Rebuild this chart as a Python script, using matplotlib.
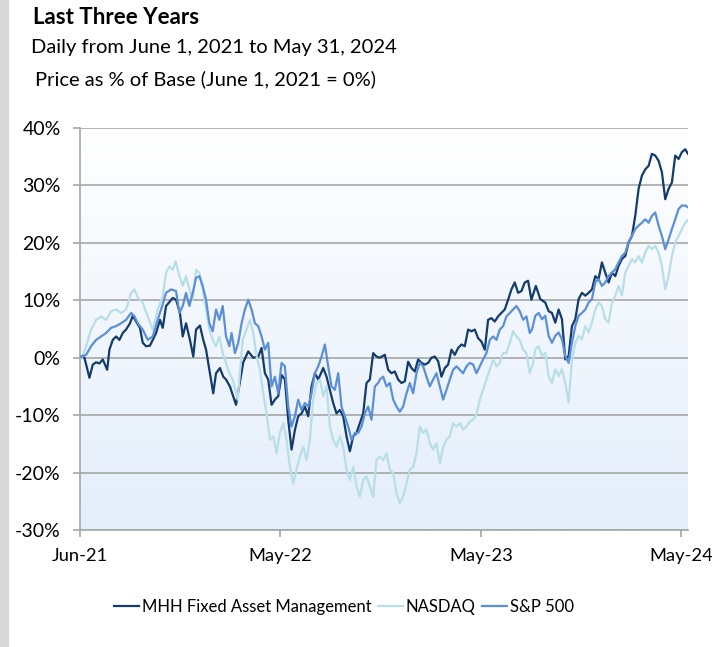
import numpy as np
import pandas as pd
import matplotlib
matplotlib.use("Agg")
import matplotlib.pyplot as plt
from matplotlib.colors import LinearSegmentedColormap
from matplotlib.patches import Rectangle

plt.rcParams['font.family'] = ['Lato', 'DejaVu Sans']

# days since June 1, 2021 and % change
mhh_days = [0, 2, 8, 17, 23, 29, 35, 41, 49, 53, 59, 65, 71, 77, 83, 90, 95, 101, 108, 113,
            119, 126, 131, 137, 144, 149, 155, 162, 167, 173, 180, 185, 191, 198, 204, 209,
            216, 222, 227, 234, 240, 245, 252, 258, 263, 270, 281, 294, 303, 312, 321, 327,
            333, 339, 345, 351, 357, 363, 369, 375, 381, 387, 393, 399, 405, 411, 417, 423,
            429, 438, 444, 450, 456, 462, 468, 474, 480, 486, 492, 498, 504, 510, 516, 522,
            528, 534, 540, 549, 555, 561, 567, 573, 579, 585, 591, 597, 603, 609, 615, 621,
            627, 633, 639, 645, 651, 657, 663, 669, 675, 681, 687, 693, 699, 705, 711, 717,
            723, 729, 735, 741, 747, 753, 759, 765, 771, 777, 783, 789, 795, 801, 807, 813,
            821, 829, 838, 844, 850, 856, 862, 868, 874, 880, 886, 892, 898, 904, 910, 916,
            922, 928, 934, 940, 946, 952, 958, 964, 970, 976, 982, 988, 994, 1000, 1006, 1012,
            1018, 1024, 1030, 1036, 1042, 1048, 1054, 1060, 1066, 1072, 1078, 1084, 1090, 1095]
mhh_vals = [0, 0.2, 0, -3.5, -1.2, -0.8, -1, -0.3, -2.1, 1.4, 3.1, 3.7, 3.1, 4.3, 4.9, 6, 7.3,
            6.3, 5.2, 2.6, 2, 2.1, 3.1, 4.3, 6.6, 5.2, 9, 9.8, 10.4, 10.1, 7.8, 3.7, 6, 3.1, 0.2,
            4.9, 5.6, 3.1, 1.4, -2.7, -6.2, -2.7, -1.8, -3.3, -3.8, -5, -8.2, -0.8, 1.1, 0, 0.2,
            1.7, -2.7, -3.8, -8.2, -7.3, -6.7, -3, -3.8, -10.8, -16, -12.6, -10.2, -9.7, -8.5,
            -10.2, -5, -2.7, -3.8, -1.8, -3.3, -5.6, -7.9, -9.7, -9.1, -10.2, -13.7, -16.3,
            -13.7, -13.1, -11.4, -9.7, -4.4, -3.8, 0.8, 0.2, 0, 0.5, -2.1, -2.7, -2.4, -3.8,
            -4.4, -4.1, -0.7, -1.8, -2.4, -0.3, -0.9, -1.2, -0.9, 0, 0.2, -0.6, -3.3, -1.8,
            -1.2, 1.4, 0.5, 1.7, 2.3, 2, 4.9, 4.6, 4.9, 3.4, 2.8, 1.4, 6.6, 6.9, 6.3, 7.2, 7.8,
            8.4, 10.1, 11.9, 13.1, 11.3, 11.6, 13.1, 13.4, 10.1, 12.5, 10.2, 9.6, 8.1, 7.8, 6.1,
            8.4, 6.7, -0.3, 0.3, 5.5, 6.7, 10.2, 11.3, 10.8, 11.3, 11.9, 14.2, 13.7, 16.6, 14.8,
            13.1, 14.8, 14.2, 16, 17.2, 17.7, 20.1, 21.2, 24.7, 29.4, 31.7, 32.8, 33.4, 35.5,
            35.2, 34.3, 32.3, 27.6, 29.4, 30.5, 35.2, 34.6, 35.8, 36.3, 35.5]

nasdaq_days = [0, 2, 11, 20, 29, 38, 47, 56, 65, 74, 83, 92, 98, 104, 113, 122, 131, 140, 149,
               155, 161, 167, 172, 179, 185, 191, 197, 203, 209, 215, 221, 227, 233, 239, 245,
               251, 257, 263, 269, 275, 284, 293, 300, 306, 312, 318, 324, 330, 336, 342, 348,
               354, 360, 366, 372, 378, 384, 390, 396, 402, 408, 414, 420, 426, 432, 438, 444,
               450, 456, 462, 468, 474, 480, 486, 492, 498, 504, 510, 516, 522, 528, 534, 540,
               546, 552, 558, 564, 570, 576, 582, 588, 594, 600, 606, 612, 618, 624, 630, 636,
               642, 648, 654, 660, 666, 672, 678, 684, 690, 696, 702, 708, 714, 720, 726, 732,
               738, 744, 750, 756, 762, 768, 774, 780, 786, 792, 798, 804, 810, 816, 820, 826,
               832, 838, 844, 850, 856, 862, 868, 874, 880, 886, 892, 898, 904, 910, 916, 922,
               928, 934, 940, 946, 952, 958, 964, 970, 976, 982, 988, 994, 1000, 1006, 1012,
               1018, 1024, 1030, 1036, 1042, 1048, 1054, 1060, 1066, 1072, 1078, 1084, 1090, 1095]
nasdaq_vals = [0, -0.3, 2, 4.9, 6.6, 7.2, 6.6, 8.1, 8.4, 7.8, 8.4, 11.3, 11.9, 10.5, 9.6, 7.2,
               4.9, 8.4, 10.7, 14.8, 15.9, 15.3, 16.8, 14.2, 12.5, 14.2, 11.9, 10.1, 15.3, 14.8,
               11.9, 8.4, 4.9, 3.1, 2, 3.7, 0.8, -0.9, -2.7, -3.8, -7.3, 3.1, 4.9, 6.6, 4.3, 0.2,
               -2.1, -6.2, -9.7, -14.3, -13.7, -16.6, -13.1, -11.4, -14.3, -19, -21.9, -19.5,
               -17.2, -15.5, -17.8, -14.3, -7.3, -4.4, -3.8, -6.7, -5, -12, -14.3, -15.5, -13.7,
               -15.5, -19.5, -21.3, -19, -22.4, -24.2, -21.3, -20.7, -22.4, -24.2, -17.8, -17.2,
               -17.8, -16.6, -19.5, -20.1, -23.6, -25.3, -24.2, -21.9, -19.5, -19, -16.6, -12,
               -13.1, -12.5, -14.9, -16, -14.9, -18.4, -15.5, -14.3, -13.7, -11.4, -12, -11.4,
               -12.5, -12, -11.1, -10.8, -9.9, -7.3, -5.6, -3.8, -2.1, -0.3, -1.5, -0.9, 0.8, 0.8,
               2.6, 4.6, 3.7, 3.1, 1.4, 0.8, -2.7, -0.9, 1.5, 2, 0.3, 0.9, -3.2, -4.4, -2, -3.2, -2,
               -4.4, -7.8, -0.3, 2.6, 3.8, 3.2, 5.5, 4.4, 6.1, 8.4, 9.6, 9, 6.7, 6.1, 9.6, 10.8,
               12.5, 10.8, 14.8, 16, 17.2, 16.6, 17.7, 16.6, 18.3, 19.5, 18.9, 19.5, 18.3, 16,
               11.9, 14.2, 17.7, 20.1, 21.2, 22.4, 23.5, 24]

sp_days = [0, 2, 11, 20, 29, 38, 47, 56, 65, 74, 83, 92, 98, 104, 113, 122, 131, 140, 149, 155,
           164, 173, 179, 185, 191, 197, 203, 209, 215, 221, 227, 233, 239, 245, 251, 257, 263,
           269, 273, 279, 285, 291, 297, 303, 309, 315, 321, 327, 333, 339, 345, 351, 357, 363,
           369, 375, 381, 387, 393, 399, 405, 411, 417, 423, 429, 435, 441, 447, 453, 459, 465,
           471, 477, 483, 489, 495, 501, 507, 513, 519, 525, 531, 537, 540, 546, 552, 558, 564,
           570, 576, 582, 588, 594, 600, 606, 612, 618, 624, 630, 636, 642, 648, 654, 660, 666,
           672, 678, 684, 690, 696, 702, 708, 714, 720, 726, 732, 738, 744, 750, 756, 762, 768,
           774, 780, 786, 792, 798, 804, 810, 814, 820, 826, 832, 838, 844, 850, 856, 862, 868,
           874, 880, 886, 892, 898, 904, 910, 916, 922, 928, 934, 940, 946, 952, 958, 964, 970,
           976, 982, 988, 994, 1000, 1006, 1012, 1018, 1024, 1030, 1036, 1042, 1048, 1054, 1060,
           1066, 1072, 1078, 1084, 1090, 1095]
sp_vals = [0, 0.2, 0.5, 2, 3.1, 3.7, 4.3, 5.2, 5.5, 6, 6.6, 7.8, 7.2, 6, 4.9, 3.1, 3.7, 6.6,
           9.3, 11.3, 11.9, 11.6, 7.8, 9, 11.3, 9, 11.3, 13.9, 14.2, 12.5, 10.1, 6, 4.6, 8.4, 6.6,
           9, 3.7, 2, 4.3, 0.8, 2.6, 6, 8.4, 10.1, 8.4, 6, 5.5, 3.7, 1.4, 2.6, -5, -3.3, -6.2,
           -0.9, -1.5, -8.5, -12, -10.2, -7.3, -9.1, -7.9, -8.5, -6.2, -2.7, -1.5, 0.2, 2.3, -1.5,
           -5, -5.6, -2.7, -8.5, -10.2, -12, -14.3, -13.1, -13.1, -12, -9.7, -8.5, -10.8, -5,
           -4.4, -3.8, -3.3, -5, -4.4, -7.3, -8.5, -9.4, -8.5, -6.2, -4.4, -6.2, -2.7, -0.9, -1.5,
           -3.3, -5, -3.8, -2.7, -5, -7.3, -5.6, -3.8, -2.1, -1.5, -2.1, -2.7, -1.5, -0.9, -1.2,
           -2.7, -1.5, -0.3, 0.8, 3.1, 3.7, 3.1, 4.9, 5.5, 7.2, 7.8, 8.4, 9, 8.1, 6.6, 7.2, 4.3,
           4.9, 7.3, 7.8, 6.7, 7.3, 3.8, 2.6, 3.8, 4.4, 3.2, 0.3, -0.9, 2.6, 5.5, 7.3, 7.8, 8.4,
           9.6, 10.2, 13.1, 13.7, 12.5, 13.1, 14.2, 14.8, 15.4, 16.6, 17.7, 18.3, 20.1, 21.2,
           22.4, 23, 23.5, 24.1, 23.5, 24.7, 25.3, 23, 21.2, 18.9, 20.6, 22.4, 24.1, 25.9, 26.5,
           26.5, 26.2]

series_names = ['MHH Fixed Asset Management', 'NASDAQ', 'S&P 500']
series_colors = ['#133B6C', '#B8DEE8', '#5B8FD8']
tick_days = [0, 361, 722, 1083]
tick_labels = ['Jun-21', 'May-22', 'May-23', 'May-24']
y_ticks = [-30, -20, -10, 0, 10, 20, 30, 40]

base = pd.Timestamp('2021-06-01')


def to_dates(days):
    return base + pd.to_timedelta(days, unit='D')


fig = plt.figure(figsize=(7.12, 6.47), dpi=100)
fig.patches.append(Rectangle((0, 0), 8 / 712, 1, transform=fig.transFigure,
                             color='#D9D9D9', zorder=0))

ax = fig.add_axes([80 / 712, 1 - 530 / 647, 608 / 712, 402 / 647])

# gradient background of the plot area
grad = LinearSegmentedColormap.from_list('bg', ['#E3EEFB', '#FFFFFF'])
ax.imshow(np.linspace(0, 1, 256).reshape(-1, 1), cmap=grad, origin='lower',
          extent=[0, 1, 0, 1], transform=ax.transAxes, aspect='auto', zorder=0)

for d, v, name, c in zip([mhh_days, nasdaq_days, sp_days], [mhh_vals, nasdaq_vals, sp_vals],
                         series_names, series_colors):
    ax.plot(to_dates(d), v, color=c, lw=1.6, label=name, zorder=3)

ax.set_xlim(base, to_dates([1095])[0])
ax.set_ylim(-30, 40)
ax.set_yticks(y_ticks)
ax.set_yticklabels([f'{t}%' for t in y_ticks])
ax.set_xticks(to_dates(tick_days))
ax.set_xticklabels(tick_labels)
ax.grid(axis='y', color='#A6A6A6', lw=1.2, zorder=1)
ax.set_axisbelow(True)

for s in ['top', 'right']:
    ax.spines[s].set_visible(False)
for s in ['left', 'bottom']:
    ax.spines[s].set_color('#A6A6A6')
    ax.spines[s].set_linewidth(1.2)
ax.tick_params(axis='both', colors='#A6A6A6', length=5, width=1.2, labelcolor='black')
ax.tick_params(axis='y', pad=9, labelsize=14)
ax.tick_params(axis='x', pad=8, labelsize=13.2)

fig.text(33 / 712, 1 - 17 / 647, 'Last Three Years', fontsize=16, fontweight='bold',
         va='center', ha='left')
fig.text(31 / 712, 1 - 47 / 647, 'Daily from June 1, 2021 to May 31, 2024', fontsize=14.5,
         va='center', ha='left')
fig.text(35 / 712, 1 - 79 / 647, 'Price as % of Base (June 1, 2021 = 0%)', fontsize=14.5,
         va='center', ha='left')

fig.legend(loc='center', bbox_to_anchor=(344 / 712, 1 - 607 / 647), ncol=3, frameon=False,
           fontsize=12, handlelength=1.5, handletextpad=0.15, columnspacing=0.4)

fig.savefig('out.png', dpi=100)
